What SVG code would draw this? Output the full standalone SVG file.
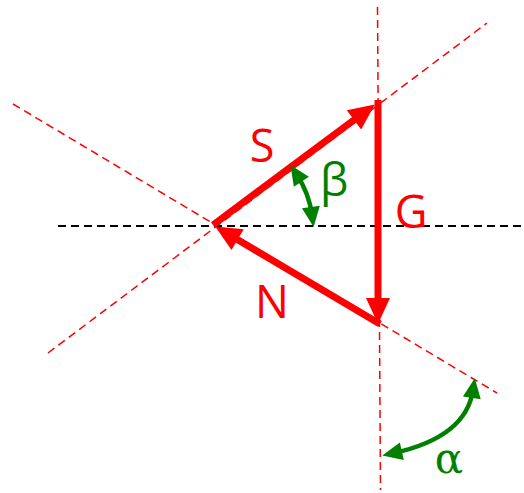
<svg xmlns="http://www.w3.org/2000/svg" width="524" height="493" viewBox="0 0 524 493">
<style>
.guide{stroke:#ff0000;stroke-width:1.5;stroke-dasharray:8,5;fill:none}
.axis{stroke:#000;stroke-width:2;stroke-dasharray:8,5;fill:none}
.vec{stroke:#ff0000;stroke-width:7;fill:none;marker-end:url(#rh)}
.ang{stroke:#008000;stroke-width:4.5;fill:none;marker-start:url(#gh);marker-end:url(#gh)}
.lr{font-family:"Open Sans","Noto Sans",sans-serif;font-size:45px;fill:#ff0000;text-anchor:middle}
.lg{font-family:"Open Sans","Noto Sans",sans-serif;font-size:45px;fill:#008000;text-anchor:middle}
.la{font-family:"DejaVu Serif","Liberation Serif",serif;font-size:42px;fill:#008000;text-anchor:middle}
</style>
<defs>
<marker id="rh" markerUnits="userSpaceOnUse" markerWidth="27" markerHeight="25" refX="10" refY="12" orient="auto" overflow="visible">
<path d="M0,0 L26,12 L0,24 z" fill="#ff0000"/>
</marker>
<marker id="gh" markerUnits="userSpaceOnUse" markerWidth="21" markerHeight="19" refX="8" refY="9" orient="auto-start-reverse" overflow="visible">
<path d="M0,0 L20,9 L0,18 z" fill="#008000"/>
</marker>
</defs>
<g id="guides">
<line class="guide" x1="377.5" y1="7" x2="380.5" y2="490"/>
<line class="guide" x1="48" y1="353" x2="487" y2="23"/>
<line class="guide" x1="13" y1="104" x2="497" y2="393"/>
<line class="axis" x1="58" y1="226" x2="524" y2="226"/>
</g>
<g id="connectors">
<line id="S-vec" class="vec" x1="213" y1="225" x2="362" y2="114"/>
<line id="G-vec" class="vec" x1="378" y1="100" x2="378" y2="308"/>
<line id="N-vec" class="vec" x1="380" y1="324" x2="229" y2="234.6"/>
<path id="beta-arc" class="ang" d="M297,175 A97,97 0 0,1 312,215"/>
<path id="alpha-arc" class="ang" d="M473,390 Q466,437 394,453"/>
</g>
<g id="label-S"><text class="lr" x="262" y="162">S</text></g>
<g id="label-G"><text class="lr" x="411" y="228">G</text></g>
<g id="label-N"><text class="lr" x="272" y="318">N</text></g>
<g id="label-beta"><text class="lg" x="334" y="196">β</text></g>
<g id="label-alpha"><text class="la" x="449" y="473">α</text></g>
</svg>
